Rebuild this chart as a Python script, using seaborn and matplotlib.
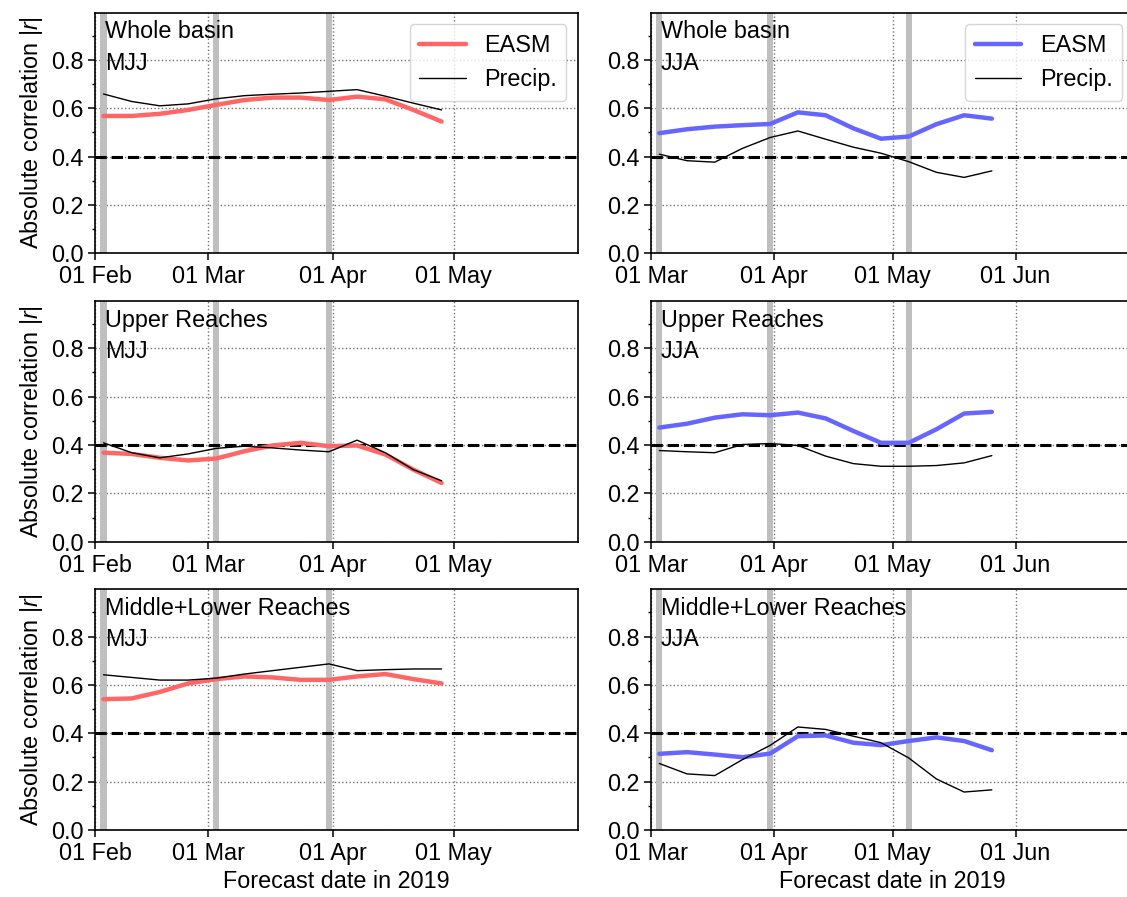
import pandas as pd
import matplotlib
matplotlib.use("Agg")
import matplotlib.pyplot as plt
import matplotlib.dates as mdates
from matplotlib.ticker import MultipleLocator
import seaborn as sns

sns.set_style("ticks")
plt.rcParams["font.family"] = ["Liberation Sans", "DejaVu Sans"]
plt.rcParams["mathtext.fontset"] = "custom"
plt.rcParams["mathtext.it"] = "Liberation Sans:italic"
plt.rcParams["mathtext.rm"] = "Liberation Sans"
for key in ["text.color", "axes.labelcolor", "xtick.color", "ytick.color"]:
    plt.rcParams[key] = "k"
FS = 16.8

# forecast dates (weekly initialisations)
mjj_dates = ["2019-02-03", "2019-02-10", "2019-02-17", "2019-02-24", "2019-03-03",
             "2019-03-10", "2019-03-17", "2019-03-24", "2019-03-31", "2019-04-07",
             "2019-04-14", "2019-04-21", "2019-04-28"]
jja_dates = ["2019-03-03", "2019-03-10", "2019-03-17", "2019-03-24", "2019-03-31",
             "2019-04-07", "2019-04-14", "2019-04-21", "2019-04-28", "2019-05-05",
             "2019-05-12", "2019-05-19", "2019-05-26"]
mjj_marks = ["2019-02-03", "2019-03-03", "2019-03-31"]
jja_marks = ["2019-03-03", "2019-03-31", "2019-05-05"]

# absolute correlations
whole_mjj_easm = [0.568, 0.568, 0.577, 0.593, 0.614, 0.634, 0.644, 0.644, 0.634, 0.648, 0.637, 0.593, 0.545]
whole_mjj_prec = [0.659, 0.628, 0.610, 0.618, 0.639, 0.652, 0.658, 0.663, 0.670, 0.677, 0.650, 0.621, 0.593]
whole_jja_easm = [0.497, 0.513, 0.524, 0.530, 0.535, 0.583, 0.571, 0.517, 0.474, 0.483, 0.534, 0.571, 0.557]
whole_jja_prec = [0.410, 0.383, 0.377, 0.434, 0.479, 0.506, 0.472, 0.439, 0.414, 0.379, 0.335, 0.314, 0.341]
upper_mjj_easm = [0.368, 0.363, 0.347, 0.336, 0.344, 0.374, 0.398, 0.409, 0.395, 0.398, 0.361, 0.298, 0.243]
upper_mjj_prec = [0.409, 0.368, 0.347, 0.363, 0.386, 0.395, 0.388, 0.379, 0.372, 0.420, 0.368, 0.298, 0.252]
upper_jja_easm = [0.472, 0.488, 0.513, 0.527, 0.523, 0.534, 0.510, 0.458, 0.409, 0.409, 0.465, 0.530, 0.537]
upper_jja_prec = [0.377, 0.372, 0.368, 0.402, 0.406, 0.398, 0.354, 0.323, 0.312, 0.312, 0.315, 0.326, 0.356]
midlow_mjj_easm = [0.541, 0.544, 0.571, 0.606, 0.624, 0.635, 0.631, 0.621, 0.621, 0.635, 0.645, 0.624, 0.606]
midlow_mjj_prec = [0.642, 0.631, 0.620, 0.620, 0.628, 0.645, 0.659, 0.673, 0.687, 0.659, 0.663, 0.666, 0.666]
midlow_jja_easm = [0.315, 0.322, 0.312, 0.301, 0.316, 0.388, 0.391, 0.361, 0.351, 0.368, 0.383, 0.368, 0.330]
midlow_jja_prec = [0.275, 0.232, 0.225, 0.291, 0.350, 0.426, 0.416, 0.388, 0.361, 0.298, 0.211, 0.157, 0.166]

regions = ["Whole basin", "Upper Reaches", "Middle+Lower Reaches"]
seasons = ["MJJ", "JJA"]
threshold = 0.4

panels = [
    [(whole_mjj_easm, whole_mjj_prec), (whole_jja_easm, whole_jja_prec)],
    [(upper_mjj_easm, upper_mjj_prec), (upper_jja_easm, upper_jja_prec)],
    [(midlow_mjj_easm, midlow_mjj_prec), (midlow_jja_easm, midlow_jja_prec)],
]
col_dates = [mjj_dates, jja_dates]
col_marks = [mjj_marks, jja_marks]
col_colors = ["#ff6666", "#6666ff"]
col_xlim = [("2019-02-01", "2019-05-31 21:00"), ("2019-03-01", "2019-06-30 21:00")]

fig = plt.figure(figsize=(11.27, 8.97), dpi=100)
lefts = [0.0847, 0.578]
bottoms = [0.7176, 0.3961, 0.0747]
W, H = 0.4281, 0.2682

for r in range(3):
    for c in range(2):
        ax = fig.add_axes([lefts[c], bottoms[r], W, H])
        easm, prec = panels[r][c]
        df = pd.DataFrame({"date": pd.to_datetime(col_dates[c]), "EASM": easm, "Precip.": prec})

        for m in pd.to_datetime(col_marks[c]):
            ax.axvspan(m - pd.Timedelta(hours=19), m + pd.Timedelta(hours=19),
                       color="0.75", lw=0, zorder=1)
        ax.axhline(threshold, color="k", ls="--", lw=2.2, zorder=2)
        sns.lineplot(data=df, x="date", y="EASM", color=col_colors[c], lw=3.2,
                     label="EASM", ax=ax, zorder=4)
        sns.lineplot(data=df, x="date", y="Precip.", color="k", lw=1,
                     label="Precip.", ax=ax, zorder=5)

        ax.set_xlim(pd.Timestamp(col_xlim[c][0]), pd.Timestamp(col_xlim[c][1]))
        ax.set_ylim(0, 0.995)
        ax.xaxis.set_major_locator(mdates.MonthLocator())
        ax.xaxis.set_major_formatter(mdates.DateFormatter("%d %b"))
        ax.yaxis.set_major_locator(MultipleLocator(0.2))
        ax.yaxis.set_minor_locator(MultipleLocator(0.1))
        ax.grid(True, which="major", ls=":", color="0.45", lw=1, zorder=0)
        ax.tick_params(which="major", direction="out", length=5, width=1.1, labelsize=FS, color="k")
        ax.tick_params(which="minor", direction="out", length=2.5, width=1, color="k")
        for s in ax.spines.values():
            s.set_color("k")
            s.set_linewidth(1.2)

        ax.text(0.02, 0.968, regions[r] + "\n" + seasons[c], transform=ax.transAxes,
                ha="left", va="top", fontsize=FS, linespacing=1.45, zorder=6)

        if c == 0:
            ax.set_ylabel("Absolute correlation $|r|$", fontsize=FS)
        else:
            ax.set_ylabel("")
        if r == 2:
            ax.set_xlabel("Forecast date in 2019", fontsize=FS)
        else:
            ax.set_xlabel("")
        if r == 0:
            ax.legend(loc="upper right", fontsize=FS, framealpha=0.8)
        else:
            ax.get_legend().remove()

fig.savefig("out.png", dpi=100)
